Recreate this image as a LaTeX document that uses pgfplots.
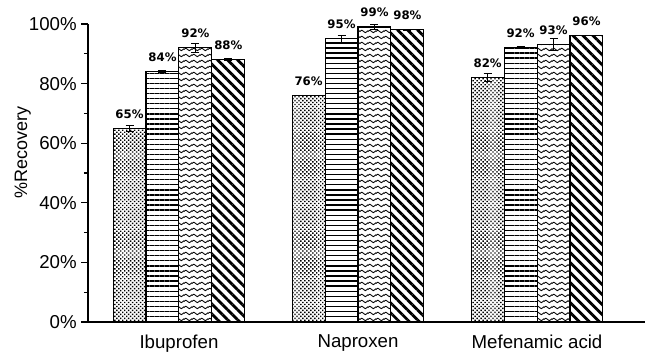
\documentclass[border=0pt]{standalone}
\usepackage{pgfplots}
\pgfplotsset{compat=1.18}
\usepackage{fontspec}
\setmainfont{Liberation Sans}
\newfontfamily\valfont{DejaVu Sans}
\usetikzlibrary{patterns,patterns.meta}

% zigzag fill for the third series
\pgfdeclarepattern{
  name=wavy,
  type=uncolored,
  bottom left={\pgfpoint{0pt}{0pt}},
  top right={\pgfpoint{6pt}{4.5pt}},
  tile size={\pgfpoint{6pt}{4.5pt}},
  code={
    \pgfsetlinewidth{0.75pt}
    \pgfsetroundjoin
    \pgfpathmoveto{\pgfpoint{-1.5pt}{1.1pt}}
    \pgfpathlineto{\pgfpoint{1.5pt}{3.4pt}}
    \pgfpathlineto{\pgfpoint{4.5pt}{1.1pt}}
    \pgfpathlineto{\pgfpoint{7.5pt}{3.4pt}}
    \pgfusepath{stroke}
  }
}

\begin{document}
\begin{tikzpicture}
% fixed page frame
\useasboundingbox (0,0) rectangle (483.75pt,264pt);
\begin{axis}[
  at={(66pt,22.5pt)}, anchor=south west,
  scale only axis,
  width=417.75pt, height=223.5pt,
  ybar=0pt, bar width=0.184,
  xmin=-0.508, xmax=2.603,
  ymin=0, ymax=100,
  axis lines=left,
  axis line style={-, line width=0.8pt},
  xtick={0,1,2},
  xticklabels={Ibuprofen, Naproxen, Mefenamic acid},
  xtick style={draw=none},
  xticklabel style={yshift=-1pt},
  ytick={0,20,40,60,80,100},
  yticklabels={0\%,20\%,40\%,60\%,80\%,100\%},
  minor ytick={10,30,50,70,90},
  tick align=outside,
  ytick pos=left,
  major tick length=5pt, minor tick length=3pt,
  tick style={line width=0.8pt, black},
  ticklabel style={font=\fontsize{14}{16}\selectfont},
  ylabel={\%Recovery},
  ylabel style={font=\fontsize{13.5}{15}\selectfont, at={(axis description cs:-0.117,0.57)}, anchor=center},
  nodes near coords={\pgfmathprintnumber[assume math mode=true]{\pgfplotspointmeta}\%},
  nodes near coords style={font=\valfont\bfseries\fontsize{8.8}{10}\selectfont, anchor=south, inner sep=0pt, yshift=7pt},
  every axis plot/.append style={draw=black, line width=0.8pt},
  error bars/error bar style={line width=0.7pt, black},
  error bars/error mark options={rotate=90, mark size=3pt, line width=0.7pt, black},
]
% extraction
\addplot[pattern={Dots[radius=0.75pt, distance=2.1pt, angle=45]},
  error bars/.cd, y dir=both, y explicit]
  coordinates {(0,65) +- (0,1.0) (1,76) +- (0,0) (2,82) +- (0,1.3)};
\addplot[pattern={Lines[angle=0, distance=3.8pt, line width=1pt]},
  error bars/.cd, y dir=both, y explicit]
  coordinates {(0,84) +- (0,0.3) (1,95) +- (0,1.2) (2,92) +- (0,0.3)};
\addplot[pattern=wavy,
  error bars/.cd, y dir=both, y explicit]
  coordinates {(0,92) +- (0,1.5) (1,99) +- (0,0.7) (2,93) +- (0,2.0)};
\addplot[pattern={Lines[angle=-45, distance=5.3pt, line width=2.1pt]},
  error bars/.cd, y dir=both, y explicit]
  coordinates {(0,88) +- (0,0.3) (1,98) +- (0,0.3) (2,96) +- (0,0)};
\end{axis}
\end{tikzpicture}
\end{document}
